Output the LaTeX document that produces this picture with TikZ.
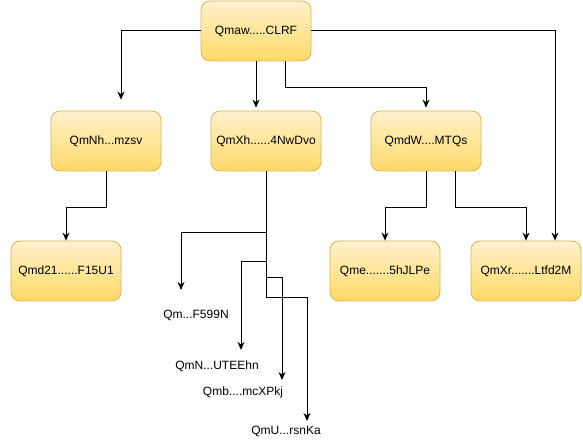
\documentclass[tikz,border=0pt]{standalone}
\usepackage{fontspec}
\setmainfont{Liberation Sans}
\usetikzlibrary{arrows.meta}
\definecolor{boxTop}{HTML}{FFF2CC}
\definecolor{boxBot}{HTML}{FFD966}
\definecolor{boxEdge}{HTML}{D6B656}
\begin{document}
\begin{tikzpicture}[x=1pt, y=-1pt,
		hashbox/.style={rectangle, rounded corners=9pt, draw=boxEdge, line width=0.8pt,
			top color=boxTop, bottom color=boxBot, minimum width=110pt, minimum height=60pt,
			inner sep=0pt, font=\fontsize{12}{14}\selectfont},
		hashtext/.style={inner sep=0pt, font=\fontsize{12}{14}\selectfont},
		arr/.style={-{Stealth[length=8pt,width=7pt,inset=2.5pt]}, line width=1pt}]
		\useasboundingbox (0,0) rectangle (583,443);
		
		% Radice
		\node[hashbox] (Qmaw) at (256,31) {Qmaw.....CLRF};
		
		% Secondo livello
		\node[hashbox] (QmNh) at (106,141) {QmNh...mzsv};
		\node[hashbox] (QmXh) at (266,141) {QmXh......4NwDvo};
		\node[hashbox] (QmdW) at (426,141) {QmdW....MTQs};
		
		% Terzo livello
		\node[hashbox] (Qmd21) at (66,271) {Qmd21......F15U1};
		\node[hashbox] (Qme) at (385,271) {Qme.......5hJLPe};
		\node[hashbox] (QmXr) at (526,271) {QmXr.......Ltfd2M};
		
		% Foglie senza riquadro
		\node[hashtext] (QmF599N) at (196,315) {Qm...F599N};
		\node[hashtext] (QmNUTEEhn) at (217,366) {QmN...UTEEhn};
		\node[hashtext] (QmbmcXPkj) at (243,392) {Qmb....mcXPkj};
		\node[hashtext] (QmUrsnKa) at (286,431) {QmU...rsnKa};
		\coordinate (tipA) at (181,290);
		\coordinate (tipB) at (241,350);
		\coordinate (tipC) at (282,380);
		\coordinate (tipD) at (307,421);
		
		% Collegamenti dalla radice
		\draw[arr, shorten >=11pt] (Qmaw.west) -| ([xshift=15pt]QmNh.north);
		\draw[arr, shorten >=3pt] (Qmaw.south) -- (Qmaw.south |- QmXh.north);
		\draw[arr, shorten >=3pt] ([xshift=29pt]Qmaw.south) -- ++(0,26) -| (QmdW.north);
		\draw[arr] (Qmaw.east) -| ([xshift=29pt]QmXr.north);
		
		% Collegamenti del secondo livello
		\draw[arr] (QmNh.south) -- ++(0,36) -| (Qmd21.north);
		\draw[arr] (QmXh.south) -- ++(0,61) -| (tipA);
		\draw[arr] (QmXh.south) -- ++(0,90) -| (tipB);
		\draw[arr] (QmXh.south) -- ++(0,106) -| (tipC);
		\draw[arr] (QmXh.south) -- ++(0,126) -| (tipD);
		\draw[arr] (QmdW.south) -- ++(0,36) -| (Qme.north);
		\draw[arr] ([xshift=29pt]QmdW.south) -- ++(0,36) -| (QmXr.north);
	\end{tikzpicture}
\end{document}
